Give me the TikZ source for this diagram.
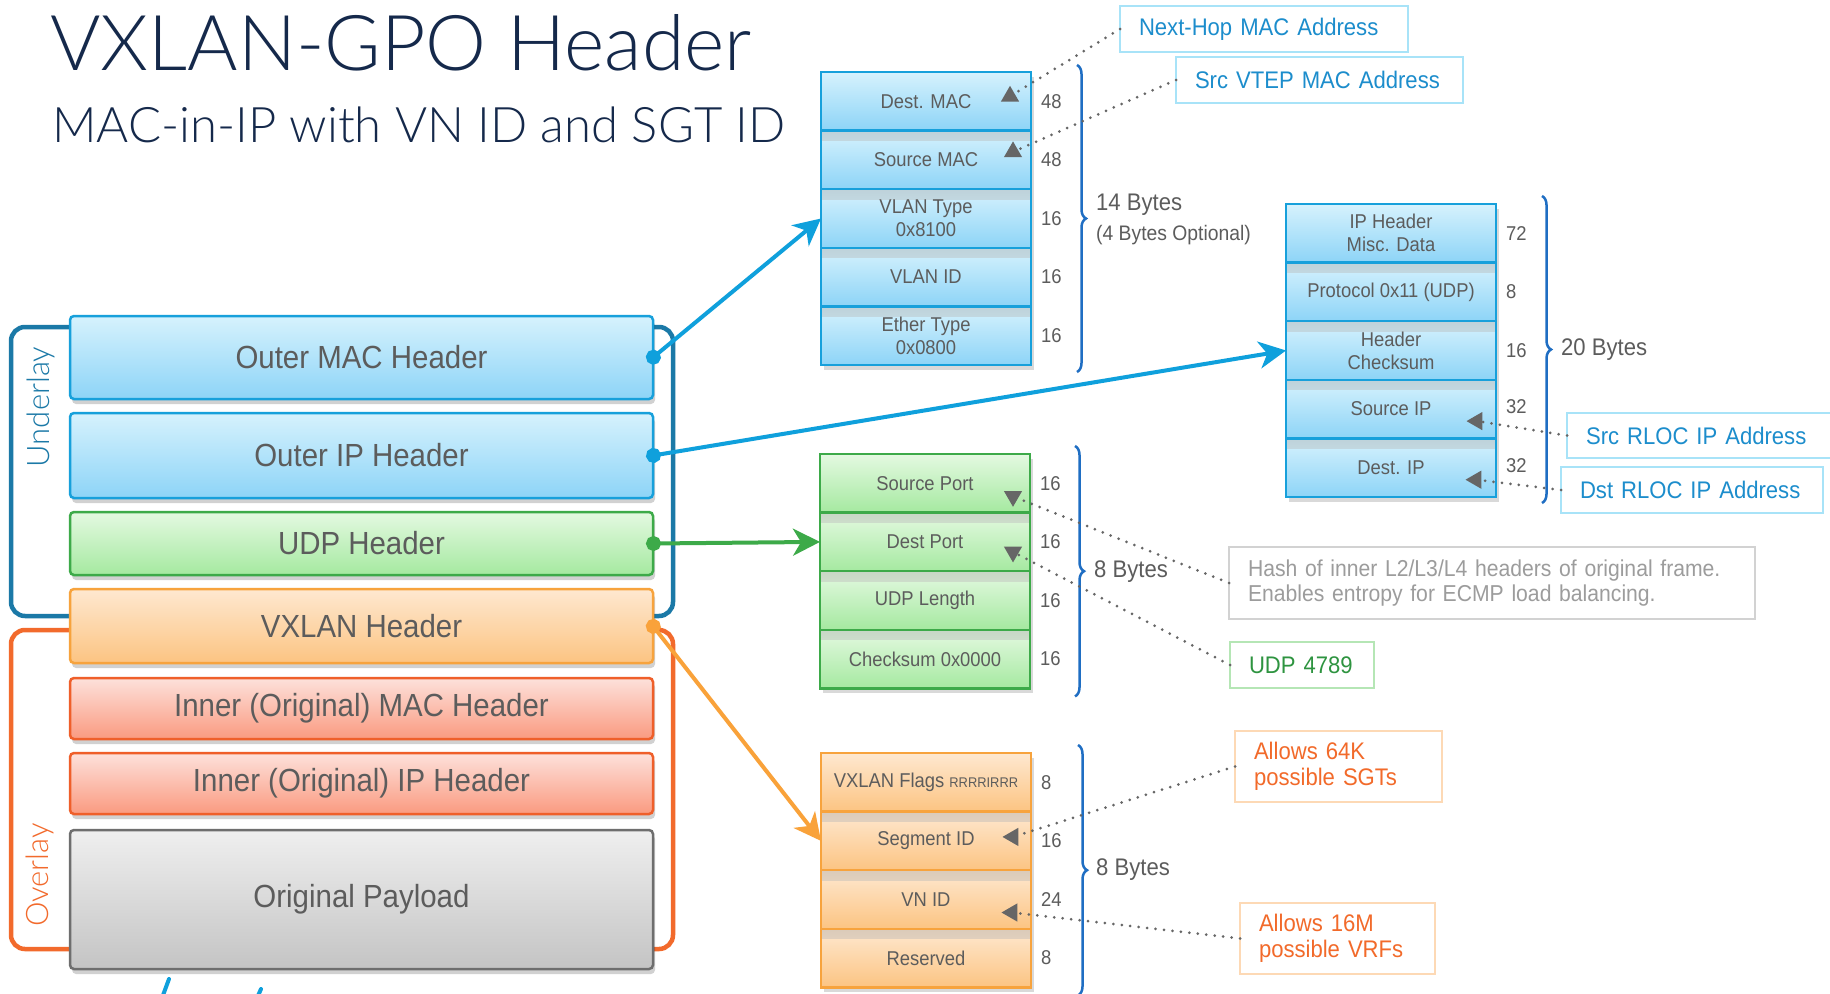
\documentclass[tikz,border=0pt]{standalone}
\usepackage{fontspec}
\setmainfont{Liberation Sans}[FakeStretch=0.92]
\IfFontExistsTF{Lato Light}{\newfontfamily\thinfont{Lato Light}}{\newfontfamily\thinfont{Lato}}
\usepackage{xcolor}
\usetikzlibrary{positioning,arrows.meta,shapes.geometric,decorations.pathreplacing,shadows}

\definecolor{navy}{HTML}{15294B}
\definecolor{txtgray}{HTML}{5C5C5C}
\definecolor{arrgray}{HTML}{666666}
\definecolor{ulblue}{HTML}{1B79A7}
\definecolor{olorange}{HTML}{F26A2C}
\definecolor{brcblue}{HTML}{1F6EC3}
\definecolor{fblue}{HTML}{17A0DB}
\definecolor{fbluetop}{HTML}{D6F2FD}
\definecolor{fbluebot}{HTML}{8DD4F7}
\definecolor{fgreen}{HTML}{3DAA49}
\definecolor{fgreentop}{HTML}{E4F9E1}
\definecolor{fgreenbot}{HTML}{A5E9A0}
\definecolor{forange}{HTML}{F7A33D}
\definecolor{forangetop}{HTML}{FEE8D0}
\definecolor{forangebot}{HTML}{FCC482}
\definecolor{fred}{HTML}{EF5F2A}
\definecolor{fredtop}{HTML}{FDE1DB}
\definecolor{fredbot}{HTML}{FA9A80}
\definecolor{fgray}{HTML}{6E6E6E}
\definecolor{fgraytop}{HTML}{EFEFEF}
\definecolor{fgraybot}{HTML}{C4C4C4}
\definecolor{cblue}{HTML}{0FA0DC}
\definecolor{cgreen}{HTML}{3DAA49}
\definecolor{corange}{HTML}{F9A23A}
\definecolor{callblue}{HTML}{A8E3F8}
\definecolor{callbluetxt}{HTML}{1C8DCC}
\definecolor{callgray}{HTML}{D2D2D2}
\definecolor{callgraytxt}{HTML}{9C9C9C}
\definecolor{callgreen}{HTML}{B5E6B5}
\definecolor{callgreentxt}{HTML}{2E9440}
\definecolor{callorange}{HTML}{FDD9B5}
\definecolor{callorangetxt}{HTML}{F26A2A}

\tikzset{
  bigbox/.style={draw, line width=2.5pt, rounded corners=4pt, minimum width=583pt,
    text=txtgray, font=\fontsize{32}{36}\selectfont, outer sep=0pt,
    drop shadow={shadow xshift=2pt, shadow yshift=-5pt, fill=black, opacity=0.18}},
  field/.style={draw, line width=2.5pt, minimum width=210pt, minimum height=58.6pt,
    inner sep=0pt, outer sep=0pt, text=txtgray, align=center,
    font=\fontsize{20}{23}\selectfont,
    drop shadow={shadow xshift=3pt, shadow yshift=-5pt, fill=black, opacity=0.15}},
  band/.style={path picture={\shade[top color=#1!72!gray, bottom color=#1]
    (path picture bounding box.north west) rectangle ([yshift=-10pt]path picture bounding box.north east);}},
  bfield/.style={field, draw=fblue, top color=fbluetop, bottom color=fbluebot},
  gfield/.style={field, draw=fgreen, top color=fgreentop, bottom color=fgreenbot},
  ofield/.style={field, draw=forange, top color=forangetop, bottom color=forangebot},
  bits/.style={text=txtgray, font=\fontsize{20}{23}\selectfont, inner sep=0pt},
  bytes/.style={text=txtgray, font=\fontsize{24}{28}\selectfont, inner sep=0pt, anchor=west},
  brc/.style={draw=brcblue, line width=2.5pt, decorate, decoration={brace, amplitude=9pt}},
  tri/.style={regular polygon, regular polygon sides=3, fill=arrgray, inner sep=0pt, minimum size=21pt},
  dotline/.style={draw=arrgray, line width=3pt, line cap=round, dash pattern=on 0pt off 8.5pt},
  callout/.style={draw, line width=2pt, anchor=north west, align=left, inner xsep=19pt, inner ysep=0pt,
    outer sep=0pt, font=\fontsize{24}{26}\selectfont},
  bigarrow/.style={line width=4pt, shorten <=-7pt,
    {Circle[length=15pt]}-{Stealth[length=27pt, width=27pt, inset=8pt]}},
}

\begin{document}
\begin{tikzpicture}[x=1pt, y=-1pt]
\useasboundingbox[fill=white] (0,0) rectangle (1830,993);

% title
\node[anchor=base west, inner sep=0pt, text=navy, font=\thinfont\fontsize{77}{80}\selectfont] (title) at (50,70) {VXLAN-GPO Header};
\node[anchor=base west, inner sep=0pt, text=navy, font=\thinfont\fontsize{49}{53}\selectfont] (subtitle) at (52,142) {MAC-in-IP with VN ID and SGT ID};

% underlay / overlay frames
\draw[ulblue, line width=4.5pt, rounded corners=14pt] (11,327) rectangle (673,616);
\draw[olorange, line width=4.5pt, rounded corners=14pt] (11,630) rectangle (673,949);
\node[rotate=90, text=ulblue, font=\thinfont\fontsize{31}{33}\selectfont] (ullbl) at (41,407) {Underlay};
\node[rotate=90, text=olorange, font=\thinfont\fontsize{31}{33}\selectfont] (ollbl) at (40,875) {Overlay};

% left stack
\node[bigbox, draw=fblue, top color=fbluetop, bottom color=fbluebot, minimum height=83pt, anchor=north west] (omac) at (70,316) {Outer MAC Header};
\node[bigbox, draw=fblue, top color=fbluetop, bottom color=fbluebot, minimum height=85pt, below=14pt of omac] (oip) {Outer IP Header};
\node[bigbox, draw=fgreen, top color=fgreentop, bottom color=fgreenbot, minimum height=63pt, below=14pt of oip] (oudp) {UDP Header};
\node[bigbox, draw=forange, top color=forangetop, bottom color=forangebot, minimum height=74pt, below=14pt of oudp] (ovx) {VXLAN Header};
\node[bigbox, draw=fred, top color=fredtop, bottom color=fredbot, minimum height=61pt, below=15pt of ovx] (imac) {Inner (Original) MAC Header};
\node[bigbox, draw=fred, top color=fredtop, bottom color=fredbot, minimum height=61pt, below=14pt of imac] (iip) {Inner (Original) IP Header};
\node[bigbox, draw=fgray, top color=fgraytop, bottom color=fgraybot, minimum height=139pt, below=16pt of iip] (payload) {Original Payload};

% ethernet header
\node[bfield, anchor=north west] (dmac) at (821,72) {Dest. MAC};
\node[bfield, band=fbluetop, below=0pt of dmac] (smac) {Source MAC};
\node[bfield, band=fbluetop, below=0pt of smac] (vtype) {VLAN Type\\0x8100};
\node[bfield, band=fbluetop, below=0pt of vtype] (vid) {VLAN ID};
\node[bfield, band=fbluetop, below=0pt of vid] (etype) {Ether Type\\0x0800};
\node[bits, right=10pt of dmac] (dmacb) {48};
\node[bits, right=10pt of smac] (smacb) {48};
\node[bits, right=10pt of vtype] (vtypeb) {16};
\node[bits, right=10pt of vid] (vidb) {16};
\node[bits, right=10pt of etype] (etypeb) {16};
\draw[brc] ([xshift=46pt,yshift=7pt]dmac.north east) -- ([xshift=46pt,yshift=-7pt]etype.south east);
\node[bytes] (b14) at (1096,205) {14 Bytes};
\node[bytes, font=\fontsize{21}{24}\selectfont] (b4opt) at (1096,235) {(4 Bytes Optional)};

% ip header
\node[bfield, anchor=north west] (ipmisc) at (1286,204) {IP Header\\Misc. Data};
\node[bfield, band=fbluetop, below=0pt of ipmisc] (ipproto) {Protocol 0x11 (UDP)};
\node[bfield, band=fbluetop, below=0pt of ipproto] (ipcsum) {Header\\Checksum};
\node[bfield, band=fbluetop, below=0pt of ipcsum] (srcip) {Source IP};
\node[bfield, band=fbluetop, below=0pt of srcip] (dstip) {Dest. IP};
\node[bits, right=10pt of ipmisc] (ipmiscb) {72};
\node[bits, right=10pt of ipproto] (ipprotob) {8};
\node[bits, right=10pt of ipcsum] (ipcsumb) {16};
\node[bits, right=10pt of srcip, yshift=2pt] (srcipb) {32};
\node[bits, right=10pt of dstip, yshift=2pt] (dstipb) {32};
\draw[brc] ([xshift=46pt,yshift=8pt]ipmisc.north east) -- ([xshift=46pt,yshift=-6pt]dstip.south east);
\node[bytes] (b20) at (1561,350) {20 Bytes};

% udp header
\node[gfield, anchor=north west] (sport) at (820,454) {Source Port};
\node[gfield, band=fgreentop, below=0pt of sport] (dport) {Dest Port};
\node[gfield, band=fgreentop, below=0pt of dport] (ulen) {UDP Length};
\node[gfield, band=fgreentop, below=0pt of ulen] (ucsum) {Checksum 0x0000};
\node[bits, right=10pt of sport] (sportb) {16};
\node[bits, right=10pt of dport] (dportb) {16};
\node[bits, right=10pt of ulen] (ulenb) {16};
\node[bits, right=10pt of ucsum] (ucsumb) {16};
\draw[brc] ([xshift=45pt,yshift=8pt]sport.north east) -- ([xshift=45pt,yshift=-8pt]ucsum.south east);
\node[bytes] (b8udp) at (1094,572) {8 Bytes};

% vxlan header
\node[ofield, anchor=north west] (flags) at (821,753) {VXLAN Flags {\fontsize{14}{16}\selectfont RRRRIRRR}};
\node[ofield, band=forangetop, below=0pt of flags] (segid) {Segment ID};
\node[ofield, band=forangetop, below=0pt of segid] (vnid) {VN ID};
\node[ofield, band=forangetop, below=0pt of vnid] (resv) {Reserved};
\node[bits, right=10pt of flags] (flagsb) {8};
\node[bits, right=10pt of segid] (segidb) {16};
\node[bits, right=10pt of vnid] (vnidb) {24};
\node[bits, right=10pt of resv] (resvb) {8};
\draw[brc] ([xshift=47pt,yshift=8pt]flags.north east) -- ([xshift=47pt,yshift=-8pt]resv.south east);
\node[bytes] (b8vx) at (1096,870) {8 Bytes};

% callouts
\node[callout, draw=callblue, text=callbluetxt, text width=250pt, minimum height=46pt] (nhop) at (1120,6) {Next-Hop MAC Address};
\node[callout, draw=callblue, text=callbluetxt, text width=249pt, minimum height=46pt] (svtep) at (1176,57) {Src VTEP MAC Address};
\node[callout, draw=callblue, text=callbluetxt, text width=252pt, minimum height=45pt] (srcrloc) at (1567,413) {Src RLOC IP Address};
\node[callout, draw=callblue, text=callbluetxt, text width=224pt, minimum height=46pt] (dstrloc) at (1561,467) {Dst RLOC IP Address};
\node[callout, draw=callgray, text=callgraytxt, text width=488pt, minimum height=72pt, font=\fontsize{23}{25}\selectfont] (hashbox) at (1229,547) {Hash of inner L2/L3/L4 headers of original frame.\\Enables entropy for ECMP load balancing.};
\node[callout, draw=callgreen, text=callgreentxt, text width=106pt, minimum height=46pt] (udpbox) at (1230,642) {UDP 4789};
\node[callout, draw=callorange, text=callorangetxt, text width=169pt, minimum height=71pt] (sgtbox) at (1235,731) {Allows 64K\\possible SGTs};
\node[callout, draw=callorange, text=callorangetxt, text width=157pt, minimum height=71pt] (vrfbox) at (1240,903) {Allows 16M\\possible VRFs};

% pointer tips
\node[tri] (dmactri) at ([xshift=-21pt,yshift=5pt]dmac.east) {};
\node[tri] (smactri) at ([xshift=-18pt,yshift=8pt]smac.east) {};
\node[tri, shape border rotate=90] (sriptri) at ([xshift=-19pt,yshift=-12pt]srcip.east) {};
\node[tri, shape border rotate=90] (dstiptri) at ([xshift=-20pt,yshift=-12pt]dstip.east) {};
\node[tri, shape border rotate=180] (sporttri) at ([xshift=-17pt,yshift=-13pt]sport.east) {};
\node[tri, shape border rotate=180] (dporttri) at ([xshift=-17pt,yshift=-10pt]dport.east) {};
\node[tri, shape border rotate=90] (segidtri) at ([xshift=-18pt,yshift=4pt]segid.east) {};
\node[tri, shape border rotate=90] (vnidtri) at ([xshift=-19pt,yshift=-13pt]vnid.east) {};

\draw[dotline] (nhop.west) -- (dmactri);
\draw[dotline] (svtep.west) -- (smactri);
\draw[dotline] (srcrloc.west) -- (sriptri);
\draw[dotline] (dstrloc.west) -- (dstiptri);
\draw[dotline] (hashbox.west) -- (sporttri);
\draw[dotline] (udpbox.west) -- (dporttri);
\draw[dotline] (sgtbox.west) -- (segidtri);
\draw[dotline] (vrfbox.west) -- (vnidtri);

% header arrows
\draw[bigarrow, cblue] (omac.east) -- (vtype.west);
\draw[bigarrow, cblue] (oip.east) -- (ipcsum.west);
\draw[bigarrow, cgreen] (oudp.east) -- (dport.west);
\draw[bigarrow, corange] (ovx.east) -- (segid.west);

% cut-off strokes at the bottom edge
\draw[cblue, line width=4pt, line cap=round] (162,998) -- (169,979);
\draw[cblue, line width=4pt, line cap=round] (257,998) -- (261,989);
\end{tikzpicture}
\end{document}
